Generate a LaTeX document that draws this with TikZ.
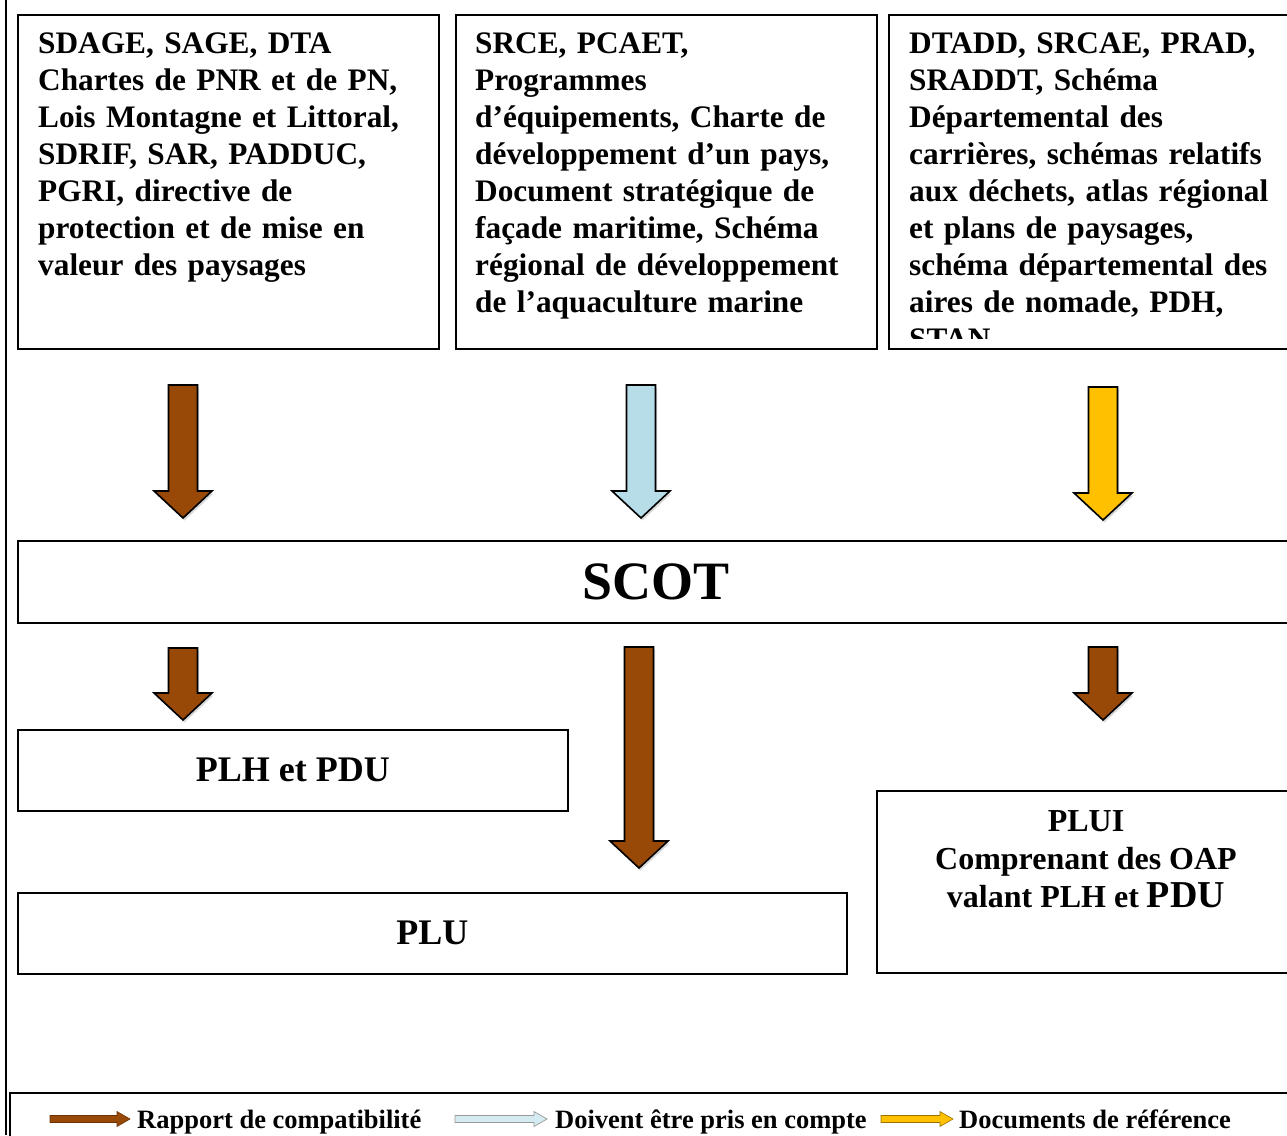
\documentclass[tikz,border=0pt]{standalone}
\usepackage{fontspec}
\setmainfont{Liberation Serif}
\usetikzlibrary{calc,shadows}

\definecolor{compat}{HTML}{984807}
\definecolor{compte}{HTML}{B7DDE8}
\definecolor{refdoc}{HTML}{FFC000}

\tikzstyle{box} = [draw, line width=1.6pt, inner sep=0pt, anchor=north west]
\tikzstyle{boxtext} = [inner sep=0pt, anchor=north west, text width=390pt, align=left,
  font=\fontsize{31.3}{37}\selectfont\bfseries]
\tikzstyle{blk} = [draw=black, line width=1.6pt, line join=miter,
  drop shadow={opacity=.3,shadow xshift=1.5pt,shadow yshift=-2.5pt}]
\tikzstyle{legtext} = [inner sep=0pt, anchor=base west, font=\fontsize{26.5}{30}\selectfont\bfseries]

% block arrow pointing down, from top point #1 to tip #2
\newcommand\blockdown[3]{%
  \draw[blk, fill=#3] let \p1=(#1), \p2=(#2) in
    (\x1-14.5pt,\y1) -- (\x1+14.5pt,\y1) -- (\x1+14.5pt,\y2+27pt) -- (\x1+29pt,\y2+27pt)
    -- (\x1,\y2) -- (\x1-29pt,\y2+27pt) -- (\x1-14.5pt,\y2+27pt) -- cycle;}
% small arrow pointing right, for the legend
\newcommand\blockright[3]{%
  \draw[#3] let \p1=(#1), \p2=(#2) in
    (\x1,\y1+3.5pt) -- (\x2-13pt,\y1+3.5pt) -- (\x2-13pt,\y1+7.5pt) -- (\x2,\y1)
    -- (\x2-13pt,\y1-7.5pt) -- (\x2-13pt,\y1-3.5pt) -- (\x1,\y1-3.5pt) -- cycle;}

\begin{document}
\begin{tikzpicture}[x=1pt, y=-1pt]
  \clip (0,0) rectangle (1287,1135);
  \draw[line width=2.5pt] (6,0) -- (6,1135);

  % documents above the SCOT
  \node[box, minimum width=421pt, minimum height=334pt] (sdage) at (17,14) {};
  \node[boxtext] (sdagetxt) at (38,33) {SDAGE, SAGE, DTA\\
    Chartes de PNR et de PN,\\
    Lois Montagne et Littoral,\\
    SDRIF, SAR, PADDUC,\\
    PGRI, directive de\\
    protection et de mise en\\
    valeur des paysages};

  \node[box, minimum width=421pt, minimum height=334pt] (srce) at (455,14) {};
  \node[boxtext] (srcetxt) at (475,33) {SRCE, PCAET,\\
    Programmes\\
    d’équipements, Charte de\\
    développement d’un pays,\\
    Document stratégique de\\
    façade maritime, Schéma\\
    régional de développement\\
    de l’aquaculture marine};

  \node[box, minimum width=412pt, minimum height=334pt] (dtadd) at (888,14) {};
  \begin{scope}
    \clip (888,14) rectangle (1287,338);
    \node[boxtext] (dtaddtxt) at (909,33) {DTADD, SRCAE, PRAD,\\
      SRADDT, Schéma\\
      Départemental des\\
      carrières, schémas relatifs\\
      aux déchets, atlas régional\\
      et plans de paysages,\\
      schéma départemental des\\
      aires de nomade, PDH,\\
      STAN};
  \end{scope}

  % SCOT and the plans below it
  \node[box, minimum width=1276pt, minimum height=82pt,
    font=\fontsize{54}{60}\selectfont\bfseries] (scot) at (17,540) {SCOT};
  \node[box, minimum width=550pt, minimum height=81pt,
    font=\fontsize{36}{40}\selectfont\bfseries] (plh) at (17,729) {PLH et PDU};
  \node[box, minimum width=829pt, minimum height=81pt,
    font=\fontsize{36}{40}\selectfont\bfseries] (plu) at (17,892) {PLU};
  \node[box, minimum width=420pt, minimum height=182pt] (plui) at (876,790) {};
  \node[inner sep=0pt, anchor=north, align=center,
    font=\fontsize{32}{38}\selectfont\bfseries] (pluitxt) at (1086,810)
    {PLUI\\Comprenant des OAP\\valant PLH et {\fontsize{38}{38}\selectfont PDU}};

  % arrows
  \coordinate (a1s) at (183,385);  \coordinate (a1e) at (183,518);
  \coordinate (a2s) at (641,385);  \coordinate (a2e) at (641,518);
  \coordinate (a3s) at (1103,387); \coordinate (a3e) at (1103,520);
  \coordinate (b1s) at (183,648);  \coordinate (b1e) at (183,720);
  \coordinate (b2s) at (639,647);  \coordinate (b2e) at (639,868);
  \coordinate (b3s) at (1103,647); \coordinate (b3e) at (1103,720);
  \blockdown{a1s}{a1e}{compat}
  \blockdown{a2s}{a2e}{compte}
  \blockdown{a3s}{a3e}{refdoc}
  \blockdown{b1s}{b1e}{compat}
  \blockdown{b2s}{b2e}{compat}
  \blockdown{b3s}{b3e}{compat}

  % legend
  \node[box, minimum width=1290pt, minimum height=60pt] (legend) at (9,1092) {};
  \coordinate (l1s) at (50,1119);  \coordinate (l1e) at (130,1119);
  \coordinate (l2s) at (455,1119); \coordinate (l2e) at (547,1119);
  \coordinate (l3s) at (881,1119); \coordinate (l3e) at (953,1119);
  \blockright{l1s}{l1e}{fill=compat, draw=compat!70!black, line width=.6pt}
  \blockright{l2s}{l2e}{fill=compte!60, draw=gray!80, line width=.7pt}
  \blockright{l3s}{l3e}{fill=refdoc, draw=refdoc!60!black, line width=.6pt}
  \node[legtext] (l1txt) at (137,1128) {Rapport de compatibilité};
  \node[legtext] (l2txt) at (555,1128) {Doivent être pris en compte};
  \node[legtext] (l3txt) at (959,1128) {Documents de référence};
\end{tikzpicture}
\end{document}
